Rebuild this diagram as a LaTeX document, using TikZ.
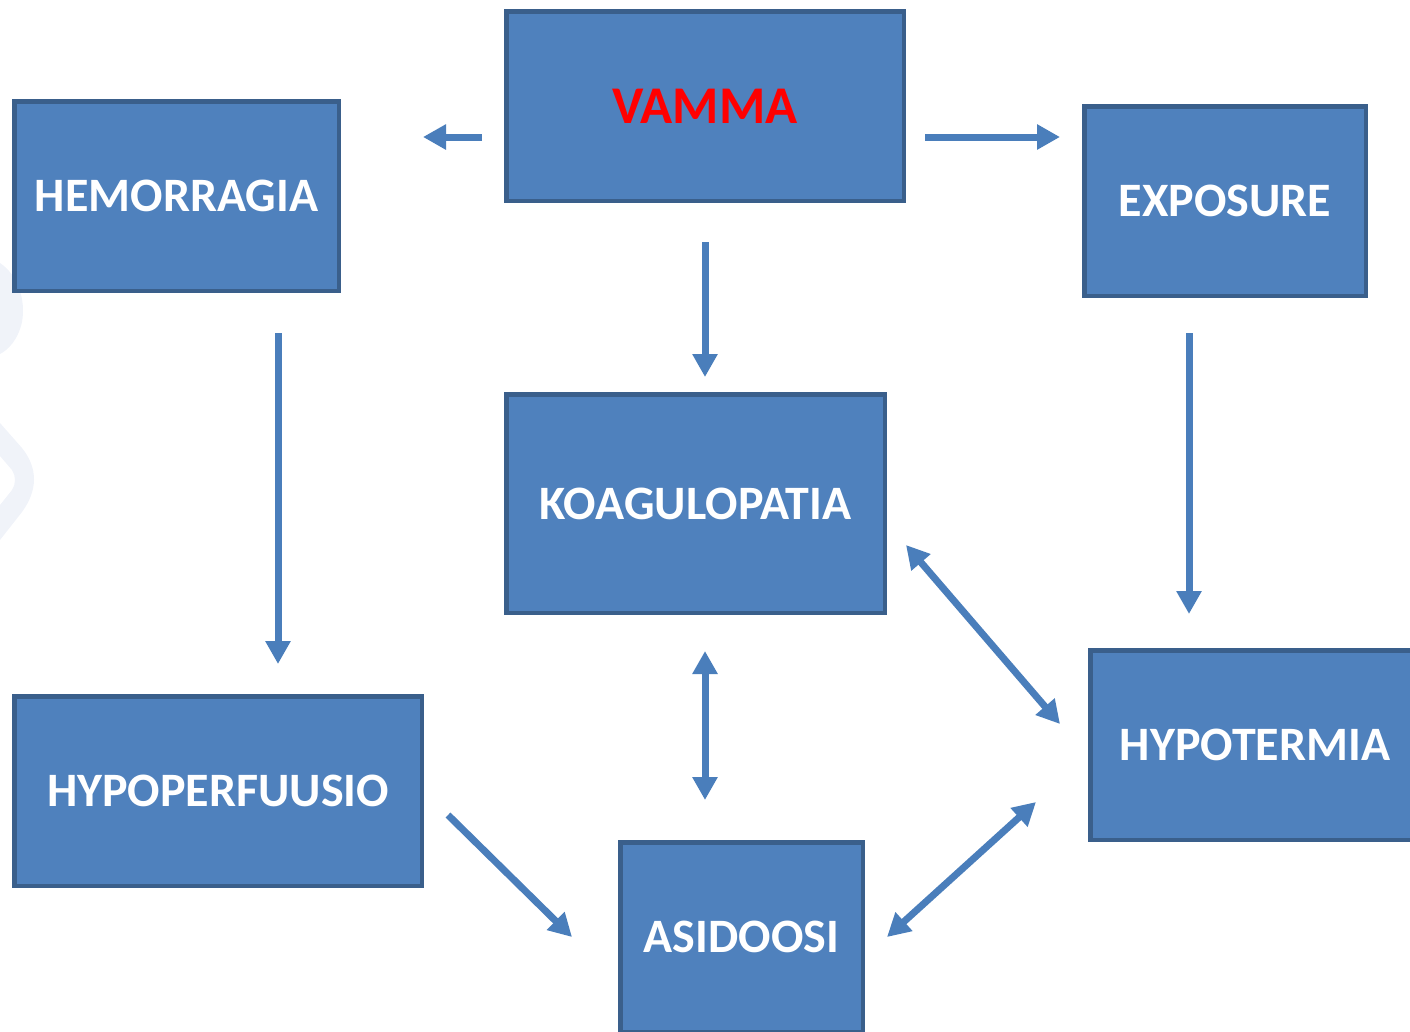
\documentclass[tikz,border=0pt]{standalone}
\usepackage{fontspec}
\setmainfont{Carlito}
\usetikzlibrary{arrows.meta}
\definecolor{boxfill}{HTML}{4F81BD}
\definecolor{boxline}{HTML}{3A5F8B}
\definecolor{arrowcol}{HTML}{4A7EBB}
\definecolor{wm}{HTML}{F0F3F9}
\tikzset{
  boxnode/.style={rectangle, draw=boxline, fill=boxfill, line width=4.5pt,
    inner sep=0pt, text=white, font=\fontsize{48}{54}\selectfont\bfseries},
  arr/.style={draw=arrowcol, line width=7pt,
    -{Triangle[length=23pt,width=24pt]}},
  darr/.style={draw=arrowcol, line width=7pt,
    {Triangle[length=23pt,width=24pt]}-{Triangle[length=23pt,width=24pt]}}
}
\begin{document}
\begin{tikzpicture}[x=1pt,y=-1pt]
\useasboundingbox (0,0) rectangle (1410,1031);
\clip (0,0) rectangle (1410,1031);
% faint watermark shapes
\fill[wm] (0,263) .. controls (18,275) and (26,300) .. (22,322)
  .. controls (18,340) and (8,350) .. (0,354) -- cycle;
\fill[wm] (0,423) -- (22,448) .. controls (38,468) and (38,490) .. (22,512)
  -- (0,540) -- (0,505) -- (12,490) .. controls (16,484) and (16,476) .. (12,470)
  -- (0,456) -- cycle;
% boxes
\node[boxnode, minimum width=397.5pt, minimum height=189.5pt, text=red,
  font=\fontsize{53}{58}\selectfont\bfseries] (vamma) at (705,106) {VAMMA};
\node[boxnode, minimum width=324.5pt, minimum height=189.5pt] (hem) at (176.5,196) {HEMORRAGIA};
\node[boxnode, minimum width=281.5pt, minimum height=189.5pt] (exp) at (1225,201) {EXPOSURE};
\node[boxnode, minimum width=378.5pt, minimum height=218.5pt] (koag) at (695.5,503.5) {KOAGULOPATIA};
\node[boxnode, minimum width=329.5pt, minimum height=189.5pt] (hypot) at (1255,745) {HYPOTERMIA};
\node[boxnode, minimum width=407.5pt, minimum height=189.5pt] (hypop) at (218,791) {HYPOPERFUUSIO};
\node[boxnode, minimum width=242.5pt, minimum height=189.5pt] (asid) at (741.5,937) {ASIDOOSI};
% connector end points
\coordinate (a1s) at (482,137); \coordinate (a1e) at (423,137);
\coordinate (a2s) at (925,137); \coordinate (a2e) at (1060,137);
\coordinate (a3s) at (705,242); \coordinate (a3e) at (705,377);
\coordinate (a4s) at (278,333); \coordinate (a4e) at (278,664);
\coordinate (a5s) at (1189,333); \coordinate (a5e) at (1189,614);
\coordinate (a6s) at (705,651); \coordinate (a6e) at (705,800);
\coordinate (a7s) at (906,545); \coordinate (a7e) at (1060,724);
\coordinate (a8s) at (1036,802); \coordinate (a8e) at (887,937);
\coordinate (a9s) at (448,815); \coordinate (a9e) at (572,937);
% connectors
\draw[arr] (a1s) -- (a1e);
\draw[arr] (a2s) -- (a2e);
\draw[arr] (a3s) -- (a3e);
\draw[arr] (a4s) -- (a4e);
\draw[arr] (a5s) -- (a5e);
\draw[darr] (a6s) -- (a6e);
\draw[darr] (a7s) -- (a7e);
\draw[darr] (a8s) -- (a8e);
\draw[arr] (a9s) -- (a9e);
\end{tikzpicture}
\end{document}
